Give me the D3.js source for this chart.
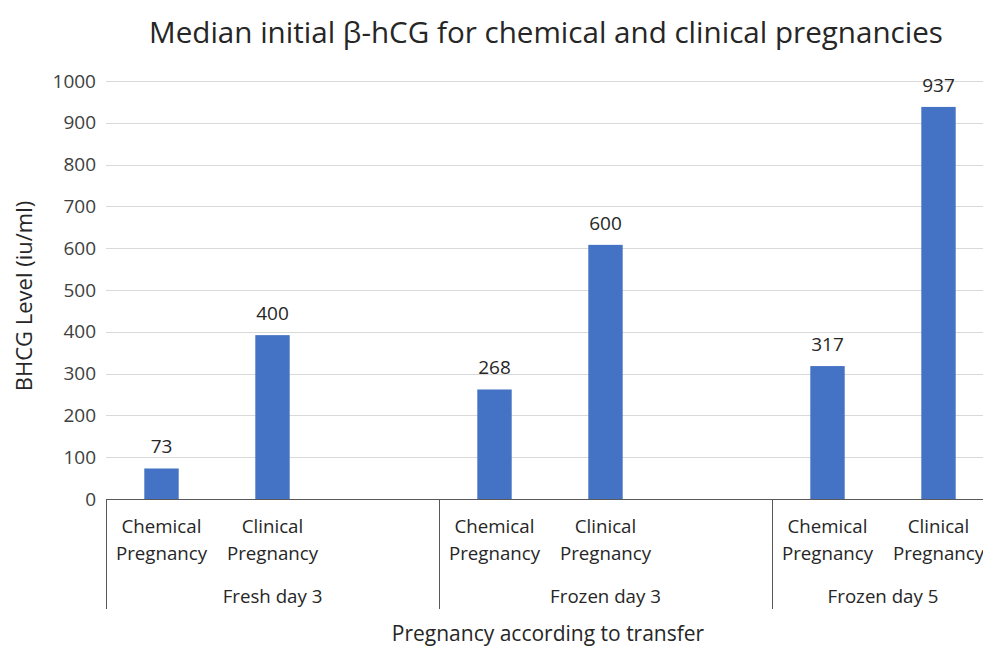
<!DOCTYPE html>
<html>
<head>
<meta charset="utf-8">
<script src="https://cdn.jsdelivr.net/npm/d3@7"></script>
<style>
	body { margin: 0; background: #fff; }
	svg { display: block; font-family: 'Open Sans', sans-serif; }
	.grid line { stroke: #d9d9d9; stroke-width: 1; }
	.tick-label { font-size: 19px; fill: #404040; }
	.value-label { font-size: 19px; fill: #262626; }
	.cat-label { font-size: 18.7px; fill: #262626; }
	.axis-title { fill: #262626; }
</style>
</head>
<body>
<svg id="chart-svg" width="983" height="647"></svg>
<script>
// chart data
const TITLE = 'Median initial \u03b2-hCG for chemical and clinical pregnancies';
const groups = [ 'Fresh day 3', 'Frozen day 3', 'Frozen day 5' ];
const types = [ 'Chemical Pregnancy', 'Clinical Pregnancy' ];
const chemicalValues = [ 73, 262, 318 ];
const clinicalValues = [ 392, 608, 938 ];
const chemicalLabels = [ '73', '268', '317' ];
const clinicalLabels = [ '400', '600', '937' ];
const yTicks = [ 0, 100, 200, 300, 400, 500, 600, 700, 800, 900, 1000 ];

const PADDING = { top: 81, bottom: 148, left: 106 };
const SLOT_WIDTH = 111;

const svg = d3.select('#chart-svg');
const svgHeight = +svg.attr('height');
const baseY = svgHeight - PADDING.bottom;

// one slot per bar, plus an empty slot between groups
let slots = [];
groups.forEach((g, gi) => {
	types.forEach((t, ti) => {
		const value = ti == 0 ? chemicalValues[gi] : clinicalValues[gi];
		const label = ti == 0 ? chemicalLabels[gi] : clinicalLabels[gi];
		slots.push({ key: g + '|' + t, group: g, type: t, value: value, label: label });
	});
	if (gi < groups.length - 1) slots.push({ key: g + '|gap', group: g, type: null });
});

const xScale = d3
	.scaleBand()
	.domain(slots.map((d) => d.key))
	.range([ PADDING.left, PADDING.left + slots.length * SLOT_WIDTH ])
	.paddingInner(0.69)
	.paddingOuter(0.345);
const yScale = d3.scaleLinear().domain([ 0, 1000 ]).range([ baseY, PADDING.top ]);
const xEnd = PADDING.left + slots.length * SLOT_WIDTH;

// gridlines
svg
	.append('g')
	.attr('class', 'grid')
	.selectAll('line')
	.data(yTicks.filter((t) => t > 0))
	.enter()
	.append('line')
	.attr('x1', PADDING.left)
	.attr('x2', xEnd)
	.attr('y1', (d) => Math.round(yScale(d)) + 0.5)
	.attr('y2', (d) => Math.round(yScale(d)) + 0.5);

// y tick labels
svg
	.append('g')
	.selectAll('text')
	.data(yTicks)
	.enter()
	.append('text')
	.attr('class', 'tick-label')
	.attr('x', 96)
	.attr('y', (d) => yScale(d))
	.attr('dy', '0.35em')
	.attr('text-anchor', 'end')
	.text((d) => d);

// bars
const bars = slots.filter((d) => d.type != null);
svg
	.selectAll('rect.bar')
	.data(bars)
	.enter()
	.append('rect')
	.attr('class', 'bar')
	.attr('x', (d) => xScale(d.key))
	.attr('y', (d) => yScale(d.value))
	.attr('width', xScale.bandwidth())
	.attr('height', (d) => baseY - yScale(d.value))
	.attr('fill', '#4472c4');

svg
	.selectAll('text.value-label')
	.data(bars)
	.enter()
	.append('text')
	.attr('class', 'value-label')
	.attr('x', (d) => xScale(d.key) + xScale.bandwidth() / 2)
	.attr('y', (d) => yScale(d.value) - 15)
	.attr('text-anchor', 'middle')
	.text((d) => d.label);

// baseline
svg
	.append('line')
	.attr('x1', PADDING.left)
	.attr('x2', xEnd)
	.attr('y1', baseY + 0.5)
	.attr('y2', baseY + 0.5)
	.attr('stroke', '#595959');

// category labels, two lines each
const catG = svg.append('g');
bars.forEach((d) => {
	const cx = xScale(d.key) + xScale.bandwidth() / 2;
	const words = d.type.split(' ');
	const t = catG.append('text').attr('class', 'cat-label').attr('text-anchor', 'middle');
	words.forEach((w, i) => {
		t.append('tspan').attr('x', cx).attr('y', baseY + 34 + i * 27).text(w);
	});
});

// group separators and labels
const groupExtent = groups.map((g) => {
	const keys = slots.filter((s) => s.group == g);
	const x0 = xScale(keys[0].key) - xScale.step() * xScale.paddingOuter();
	const x1 = x0 + keys.length * xScale.step();
	return { group: g, x0: x0, x1: x1 };
});
svg
	.append('g')
	.selectAll('line')
	.data(groupExtent)
	.enter()
	.append('line')
	.attr('x1', (d) => Math.round(d.x0) + 0.5)
	.attr('x2', (d) => Math.round(d.x0) + 0.5)
	.attr('y1', baseY)
	.attr('y2', baseY + 110)
	.attr('stroke', '#595959');
svg
	.append('g')
	.selectAll('text')
	.data(groupExtent)
	.enter()
	.append('text')
	.attr('class', 'cat-label')
	.attr('x', (d) => (d.x0 + d.x1) / 2)
	.attr('y', baseY + 104)
	.attr('text-anchor', 'middle')
	.text((d) => d.group);

// titles
svg
	.append('text')
	.attr('x', 546)
	.attr('y', 43)
	.attr('text-anchor', 'middle')
	.style('font-size', '29.6px')
	.style('fill', '#262626')
	.text(TITLE);
svg
	.append('text')
	.attr('class', 'axis-title')
	.attr('x', 548)
	.attr('y', baseY + 142)
	.attr('text-anchor', 'middle')
	.style('font-size', '21px')
	.text('Pregnancy according to transfer');
svg
	.append('text')
	.attr('class', 'axis-title')
	.attr('transform', 'translate(32, 296) rotate(-90)')
	.attr('text-anchor', 'middle')
	.style('font-size', '22px')
	.text('BHCG Level (iu/ml)');
</script>
</body>
</html>
